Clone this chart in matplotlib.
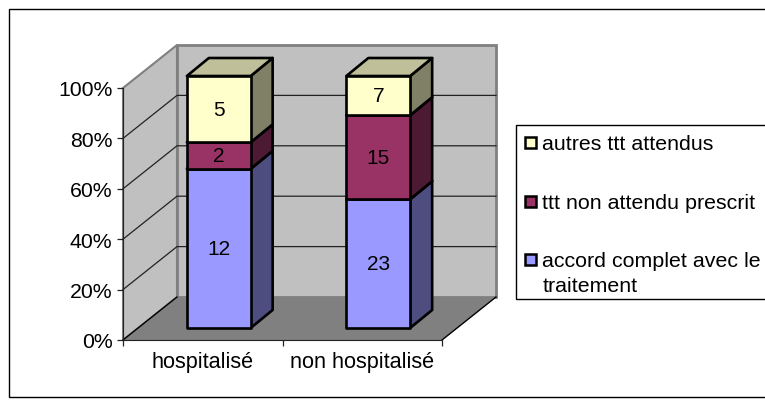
import matplotlib
matplotlib.use('Agg')
import matplotlib.pyplot as plt
from matplotlib.patches import Polygon, Rectangle
from matplotlib.transforms import ScaledTranslation

plt.rcParams['font.family'] = ['Liberation Sans', 'DejaVu Sans']

categories = ['hospitalisé', 'non hospitalisé']
series_names = ['accord complet avec le\ntraitement', 'ttt non attendu prescrit', 'autres ttt attendus']
accord = [12, 23]
non_attendu = [2, 15]
autres = [5, 7]
percent_ticks = [0, 20, 40, 60, 80, 100]

FRONT = ['#9999FF', '#993366', '#FFFFCC']
SIDE = ['#4D4D80', '#4D1A33', '#808066']
TOP = ['#4D4D80', '#4D1A33', '#BFBF99']
WALL = '#C0C0C0'
FLOOR = '#808080'
BAR_W = 0.4

W, H = 765, 410
fig = plt.figure(figsize=(W / 100, H / 100), dpi=100)
ax = fig.add_axes([123 / W, (H - 341) / H, 319 / W, 252 / H])
ax.set_xlim(0, 2)
ax.set_ylim(0, 100)
ax.patch.set_visible(False)


def shifted(dx, dy):
    # offset in pixels, used for the fake depth of the 3d look
    return ax.transData + ScaledTranslation(dx / 100, dy / 100, fig.dpi_scale_trans)


BACK = shifted(54, 43)
NEAR = shifted(16, 12)
FAR = shifted(38, 30)

# outer frame and legend box
fig.add_artist(Rectangle((9 / W, 1 - 398 / H), 760 / W, 388.5 / H, transform=fig.transFigure,
                         fc='white', ec='black', lw=1, zorder=-5))
fig.add_artist(Rectangle((516 / W, 1 - 300 / H), 260 / W, 174 / H, transform=fig.transFigure,
                         fc='white', ec='black', lw=1, zorder=-4))

# walls and floor
ax.add_patch(Rectangle((0, 0), 2, 100, transform=BACK, fc=WALL, ec=FLOOR, lw=2, clip_on=False, zorder=1))
left_wall = [ax.transData.transform((0, 0)), BACK.transform((0, 0)), BACK.transform((0, 100)), ax.transData.transform((0, 100))]
ax.add_patch(Polygon(left_wall, closed=True, transform=None, fc=WALL, ec=FLOOR, lw=1.5, clip_on=False, zorder=1))
floor = [ax.transData.transform((0, 0)), ax.transData.transform((2, 0)), BACK.transform((2, 0)), BACK.transform((0, 0))]
ax.add_patch(Polygon(floor, closed=True, transform=None, fc=FLOOR, ec='none', clip_on=False, zorder=1.5))

# gridlines along both walls
for p in percent_ticks[1:-1]:
    a = ax.transData.transform((0, p))
    b = BACK.transform((0, p))
    c = BACK.transform((2, p))
    line = plt.Line2D([a[0], b[0], c[0]], [a[1], b[1], c[1]], transform=None, color='#222222', lw=0.9, zorder=2)
    line.set_clip_on(False)
    ax.add_line(line)

# floor edges running to the back
for xv in [0, 2]:
    a = ax.transData.transform((xv, 0))
    b = BACK.transform((xv, 0))
    line = plt.Line2D([a[0], b[0]], [a[1], b[1]], transform=None, color='black', lw=1, zorder=2)
    line.set_clip_on(False)
    ax.add_line(line)

# bars
stack = [accord, non_attendu, autres]
for i in range(len(categories)):
    total = sum(s[i] for s in stack)
    x0 = i + 0.5 - BAR_W / 2
    x1 = x0 + BAR_W
    bottom = 0
    for s, values in enumerate(stack):
        y0 = bottom / total * 100
        y1 = (bottom + values[i]) / total * 100
        bottom += values[i]
        style = dict(closed=True, transform=None, ec='black', lw=1.9, joinstyle='round', clip_on=False, zorder=3 + s)
        side = [NEAR.transform((x1, y0)), FAR.transform((x1, y0)), FAR.transform((x1, y1)), NEAR.transform((x1, y1))]
        ax.add_patch(Polygon(side, fc=SIDE[s], **style))
        top = [NEAR.transform((x0, y1)), NEAR.transform((x1, y1)), FAR.transform((x1, y1)), FAR.transform((x0, y1))]
        ax.add_patch(Polygon(top, fc=TOP[s], **style))
        front = [NEAR.transform((x0, y0)), NEAR.transform((x1, y0)), NEAR.transform((x1, y1)), NEAR.transform((x0, y1))]
        ax.add_patch(Polygon(front, fc=FRONT[s], **style))
        ax.text(i + 0.5, (y0 + y1) / 2, str(values[i]), transform=NEAR, ha='center', va='center',
                fontsize=15, color='black', zorder=8)

# axes
for name in ['top', 'right']:
    ax.spines[name].set_visible(False)
ax.spines['left'].set_color('#222222')
ax.spines['bottom'].set_color('#222222')
ax.spines['left'].set_zorder(2.5)
ax.spines['bottom'].set_zorder(2.5)
ax.set_yticks(percent_ticks)
ax.set_yticklabels([f'{p}%' for p in percent_ticks], fontsize=15.3)
ax.set_xticks([0, 1, 2])
ax.set_xticklabels([])
ax.set_xticks([0.5, 1.5], minor=True)
ax.set_xticklabels(categories, minor=True, fontsize=15.6)
ax.tick_params(axis='x', which='minor', length=0, pad=8)
ax.tick_params(axis='both', which='major', length=4, width=0.9, color='#222222')
ax.tick_params(axis='y', pad=3.5)

# legend, drawn by hand because of the uneven spacing in the box
swatch_y = [260, 202, 143.5]
legend_y = [262, 204, 145]
for s in range(3):
    y = swatch_y[s]
    fig.add_artist(Rectangle((524.5 / W, 1 - (y + 5.5) / H), 11 / W, 11 / H, transform=fig.transFigure,
                             fc=FRONT[s], ec='black', lw=1.8))
    fig.text(542.5 / W, 1 - (legend_y[s] - 10) / H, series_names[s], ha='left', va='top', fontsize=15.4, linespacing=1.38)

fig.savefig('out.png', dpi=100)
